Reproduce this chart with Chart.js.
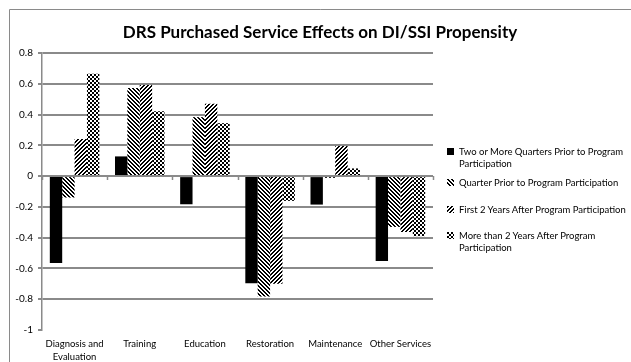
<!DOCTYPE html>
<html>
<head>
<meta charset="utf-8">
<script src="https://cdn.jsdelivr.net/npm/chart.js@4"></script>
<style>
  html, body { margin: 0; padding: 0; background: #fff; }
  #wrap { position: relative; width: 631px; height: 362px; }
  #legenda { position: absolute; left: 0; top: 0; width: 631px; height: 362px; pointer-events: none;
    font-family: Lato, "Open Sans", sans-serif; font-size: 9.5px; line-height: 11.7px; color: #000; }
  .item { position: absolute; left: 447px; width: 182px; }
  .item canvas { position: absolute; left: 0; top: 2px; }
  .item span { display: block; margin-left: 12px; }
</style>
</head>
<body>
<div id="wrap">
  <canvas id="grafico" width="631" height="362"></canvas>
  <div id="legenda"></div>
</div>
<script>
const titulo = "DRS Purchased Service Effects on DI/SSI Propensity";
const categorias = [["Diagnosis and", "Evaluation"], "Training", "Education", "Restoration", "Maintenance", "Other Services"];
const nomesSeries = [
  "Two or More Quarters Prior to Program Participation",
  "Quarter Prior to Program Participation",
  "First 2 Years After Program Participation",
  "More than 2 Years After Program Participation"
];
const doisTrimestresAntes = [-0.565, 0.128, -0.183, -0.696, -0.185, -0.552];
const trimestreAntes = [-0.139, 0.572, 0.383, -0.783, -0.012, -0.33];
const primeiros2Anos = [0.241, 0.592, 0.47, -0.70, 0.196, -0.363];
const maisDe2Anos = [0.665, 0.422, 0.344, -0.161, 0.05, -0.39];
const ticksY = [-1, -0.8, -0.6, -0.4, -0.2, 0, 0.2, 0.4, 0.6, 0.8];

const grafico = document.getElementById("grafico").getContext("2d");
const cinza = "#8a8a8a";
const fonte = "Lato, 'Open Sans', sans-serif";

// padroes tipo excel: listras e xadrez
function padrao(tipo) {
  const c = document.createElement("canvas");
  c.width = 4; c.height = 4;
  const g = c.getContext("2d");
  g.fillStyle = "#fff";
  g.fillRect(0, 0, 4, 4);
  g.fillStyle = "#000";
  for (let y = 0; y < 4; y++) {
    for (let x = 0; x < 4; x++) {
      let liga;
      if (tipo === "desce") liga = ((x - y + 8) % 4) < 2;
      else if (tipo === "sobe") liga = ((x + y) % 4) < 2;
      else liga = ((Math.floor(x / 2) + Math.floor(y / 2)) % 2) === 0;
      if (liga) g.fillRect(x, y, 1, 1);
    }
  }
  return c;
}

const texturas = ["solido", "desce", "sobe", "xadrez"];
const fundos = texturas.map(t => t === "solido" ? "#000" : grafico.createPattern(padrao(t), "repeat"));
const valores = [doisTrimestresAntes, trimestreAntes, primeiros2Anos, maisDe2Anos];

// moldura (so topo e esquerda aparecem) + titulo
const moldura = {
  id: "moldura",
  beforeDraw(chart) {
    const ctx = chart.ctx;
    ctx.save();
    ctx.strokeStyle = cinza;
    ctx.lineWidth = 1;
    ctx.beginPath();
    ctx.moveTo(9.5, 362);
    ctx.lineTo(9.5, 9.5);
    ctx.lineTo(631, 9.5);
    ctx.stroke();
    ctx.fillStyle = "#000";
    ctx.font = "bold 17px " + fonte;
    ctx.textAlign = "center";
    ctx.textBaseline = "middle";
    ctx.fillText(titulo, 320, 33);
    ctx.restore();
  }
};

const eixoZero = {
  id: "eixoZero",
  afterDatasetsDraw(chart) {
    const { ctx, chartArea, scales } = chart;
    const y0 = Math.round(scales.y.getPixelForValue(0));
    ctx.save();
    ctx.strokeStyle = cinza;
    ctx.lineWidth = 1.5;
    ctx.beginPath();
    ctx.moveTo(chartArea.left, y0);
    ctx.lineTo(chartArea.right, y0);
    const passo = (chartArea.right - chartArea.left) / categorias.length;
    for (let i = 0; i <= categorias.length; i++) {
      const x = Math.round(chartArea.left + i * passo) + 0.5;
      ctx.moveTo(x, y0);
      ctx.lineTo(x, y0 + 4);
    }
    ctx.stroke();
    ctx.restore();
  }
};

new Chart(grafico, {
  type: "bar",
  data: {
    labels: categorias,
    datasets: nomesSeries.map((nome, i) => ({
      label: nome,
      data: valores[i],
      backgroundColor: fundos[i],
      borderWidth: 0,
      categoryPercentage: 0.76,
      barPercentage: 1
    }))
  },
  options: {
    responsive: false,
    animation: false,
    layout: { padding: { left: 0, right: 198, top: 53, bottom: 0 } },
    plugins: {
      legend: { display: false },
      tooltip: { enabled: false },
      title: { display: false }
    },
    scales: {
      x: {
        grid: { display: false, drawTicks: false },
        border: { display: false },
        ticks: {
          color: "#000",
          padding: 7,
          maxRotation: 0,
          autoSkip: false,
          font: { family: fonte, size: 9.5, lineHeight: 1.37 }
        },
        afterFit(scale) { scale.height = 32; }
      },
      y: {
        min: -1,
        max: 0.8,
        afterBuildTicks(scale) { scale.ticks = ticksY.map(v => ({ value: v })); },
        afterFit(scale) { scale.width = 42; },
        grid: {
          color: ctx => (ctx.tick && ctx.tick.value === -1) ? "rgba(0,0,0,0)" : cinza,
          tickColor: cinza,
          tickLength: 4,
          lineWidth: 2
        },
        border: { display: true, color: cinza, width: 1.5 },
        ticks: {
          color: "#000",
          padding: 5,
          font: { family: fonte, size: 10 },
          callback: v => String(v)
        }
      }
    }
  },
  plugins: [moldura, eixoZero]
});

// legenda em html, com as mesmas texturas
const legenda = document.getElementById("legenda");
const topos = [146, 176.5, 203.5, 230];
nomesSeries.forEach((nome, i) => {
  const item = document.createElement("div");
  item.className = "item";
  item.style.top = topos[i] + "px";
  const amostra = document.createElement("canvas");
  amostra.width = 7; amostra.height = 7;
  const a = amostra.getContext("2d");
  a.fillStyle = texturas[i] === "solido" ? "#000" : a.createPattern(padrao(texturas[i]), "repeat");
  a.fillRect(0, 0, 7, 7);
  const texto = document.createElement("span");
  texto.textContent = nome;
  item.appendChild(amostra);
  item.appendChild(texto);
  legenda.appendChild(item);
});
</script>
</body>
</html>
